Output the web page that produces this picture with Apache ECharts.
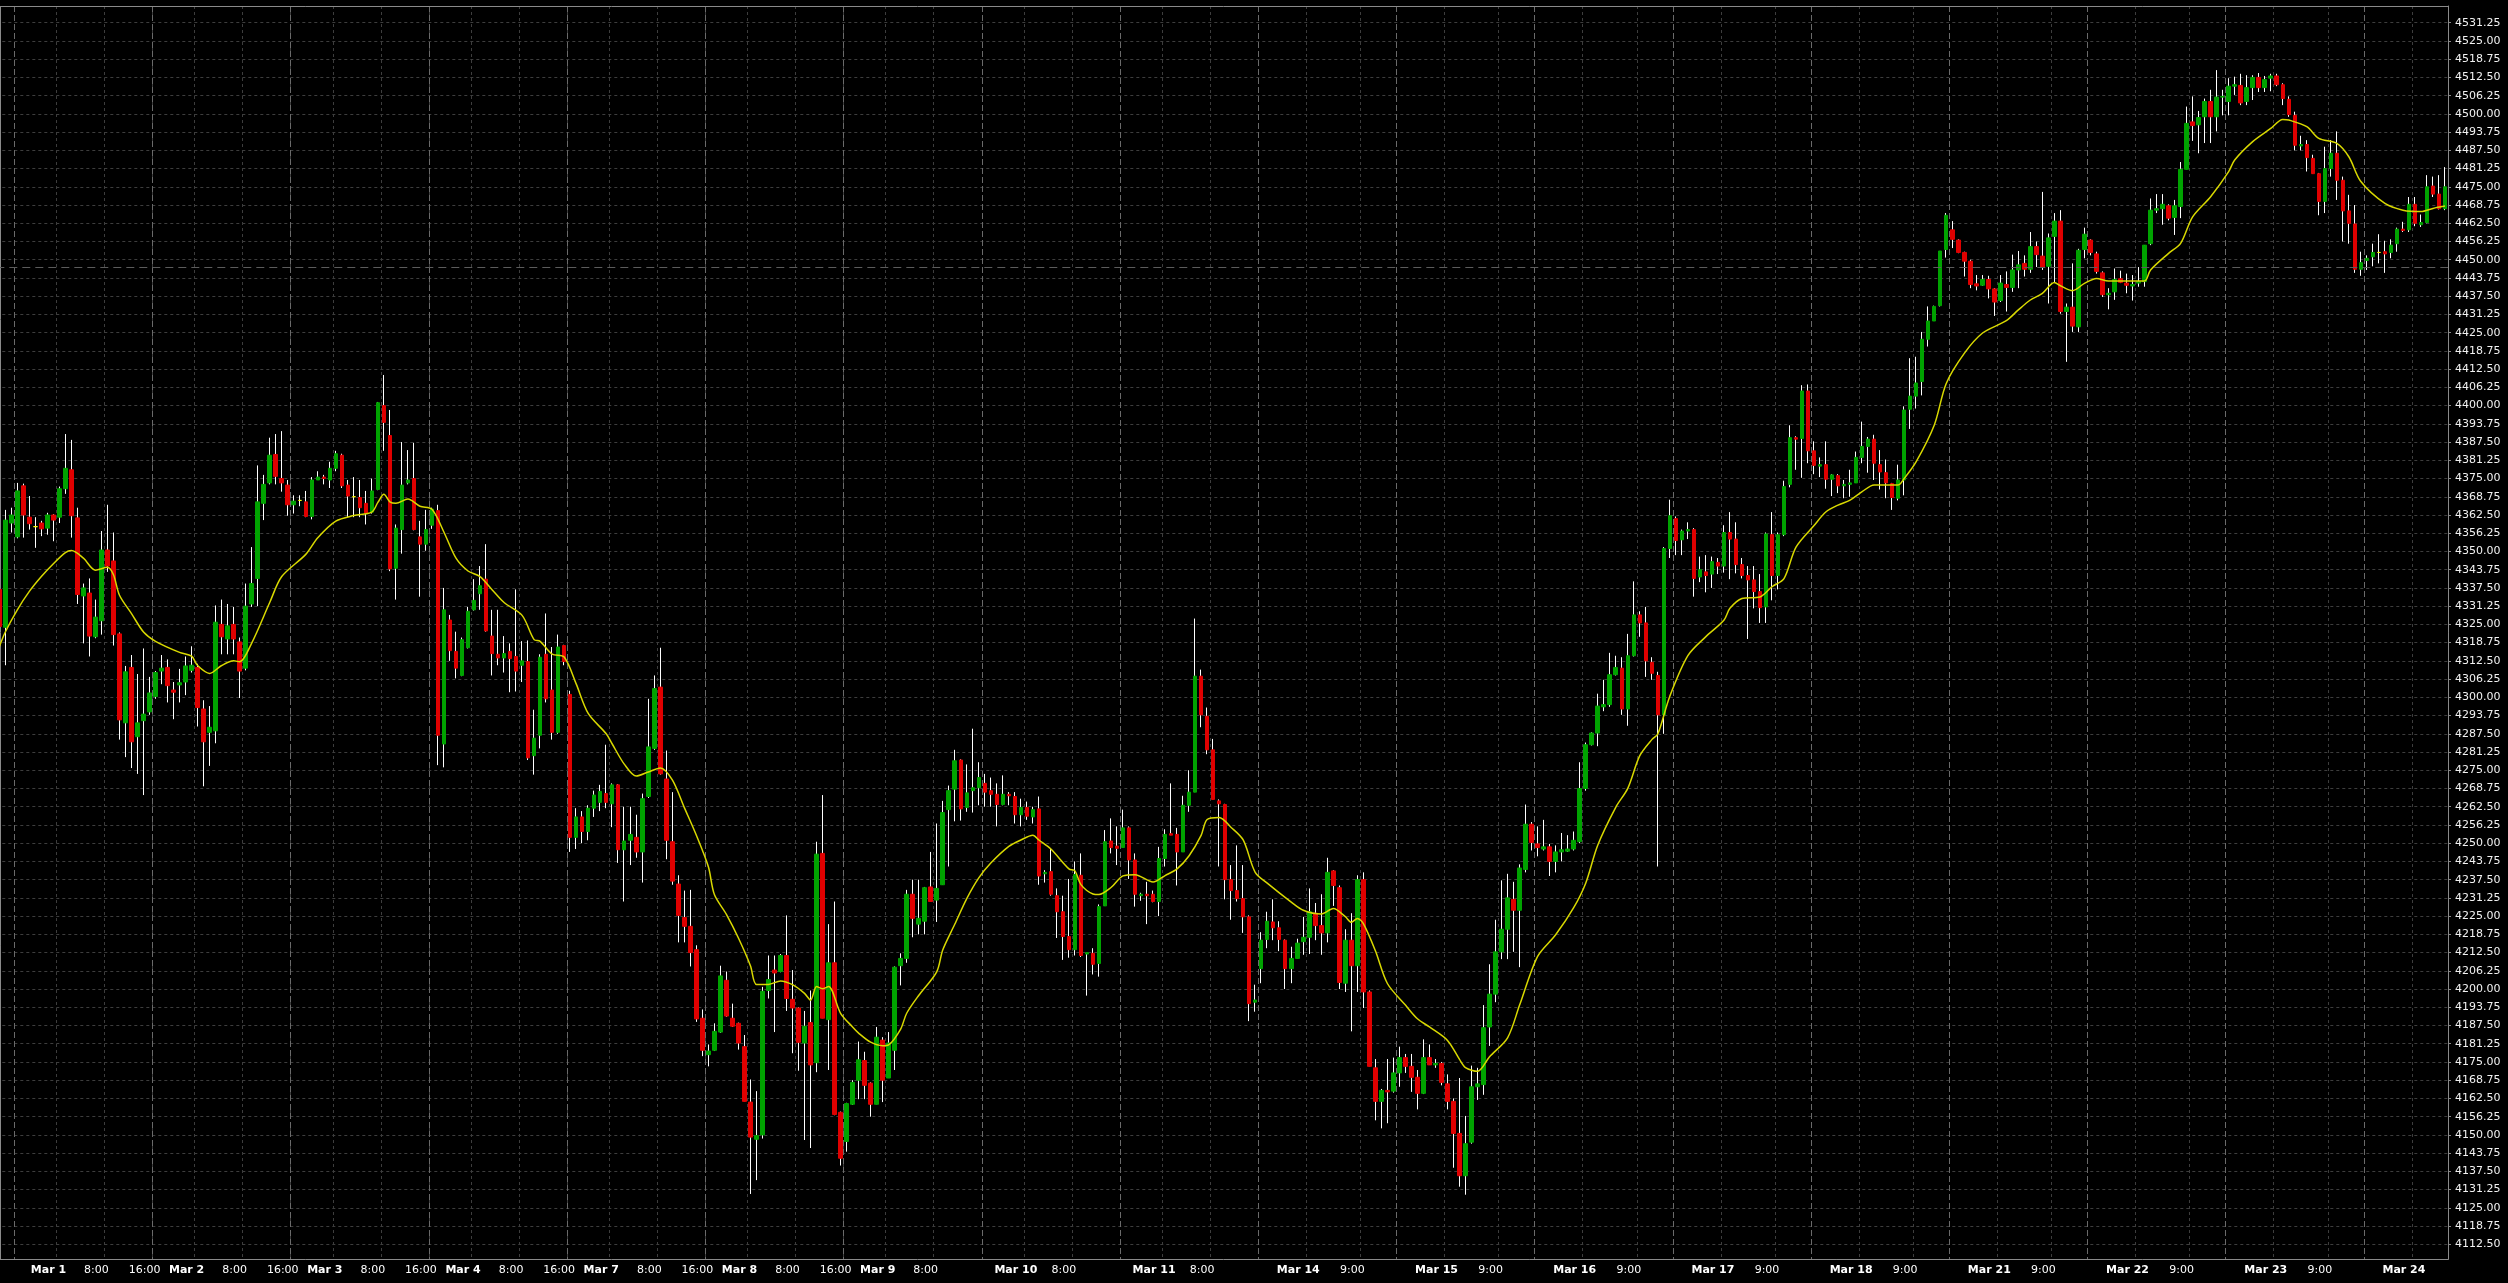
<!DOCTYPE html>
<html><head><meta charset="utf-8">
<script src="https://cdn.jsdelivr.net/npm/echarts@6/dist/echarts.min.js"></script>
<style>html,body{margin:0;padding:0;background:#000;}#c{width:2508px;height:1283px;}</style>
</head><body><div id="c"></div>
<script>
const opens = [4337,4324,4359.75,4355,4372.5,4361.75,4358.5,4359.75,4358,4362.5,
4361.75,4371.5,4378,4361.5,4334.75,4335.75,4320.75,4326.25,4350.5,4346.75,
4321.75,4291.25,4310.25,4286.5,4292,4295,4300.25,4309,4310.25,4302.5,
4304.25,4305.25,4309.25,4310.25,4296,4288,4288.5,4325,4320,4325,
4319,4310,4332,4340.75,4366.5,4373.5,4383.25,4375,4372.75,4366,
4367.5,4367,4362,4374.5,4375.5,4374.5,4378.5,4383,4372.75,4368.75,
4368.5,4366.5,4363.5,4371.25,4400,4389.75,4344.25,4357.5,4373.5,4375,
4355,4352.5,4359,4364,4284,4326.5,4315.75,4307.5,4317,4330,
4335.5,4340.5,4321,4314.75,4313.5,4315.75,4314,4311,4312.25,4280,
4287,4314.75,4302.5,4288,4317.75,4301,4252,4259,4254,4262,
4264,4267,4263.5,4270,4247.75,4251,4252,4247,4266,4282.5,
4303.5,4272,4250.5,4236,4224.5,4221.5,4213.5,4190,4177.5,4179,
4185.25,4203,4190,4188.25,4180.25,4161.25,4148.5,4150,4199.5,4206.5,
4206,4211.5,4196.5,4193.5,4181.5,4188.5,4174.75,4246.5,4189.5,4209,
4157.75,4147.75,4160.5,4168.75,4175.5,4167.75,4160.5,4182.5,4169.5,4179,
4208,4210.5,4232.5,4222.25,4223.25,4235,4230.5,4235.75,4261.5,4268.5,
4278.5,4262.25,4268,4269,4270.5,4268,4266.75,4263.25,4266.75,4266,
4259.75,4262.25,4259,4261.75,4239.5,4240.25,4232,4226.5,4218,4213.5,
4239,4212,4212.25,4208.75,4228.5,4250.75,4249,4248.5,4255.25,4244.25,
4232,4232.5,4232.5,4230,4244.75,4253.25,4253,4247,4263,4267.5,
4307.25,4293.5,4282,4264.5,4263.25,4237.5,4233.75,4231,4224.75,4195.5,
4207,4217,4223,4221,4216.75,4207,4210.5,4216.25,4217.75,4226,
4221.75,4219.25,4240.5,4234.75,4202,4216.75,4208,4237.5,4199,4173,
4161.5,4165.25,4165,4171.25,4176.5,4173.5,4169.75,4164.25,4176.5,4174,
4174.5,4167.5,4161.5,4150.5,4136,4147.5,4166.5,4167.25,4187,4198.25,
4212.75,4220.5,4230.75,4227,4241,4256.5,4249.75,4248,4248.75,4243.75,
4247,4247.25,4248,4250.5,4268.75,4283.75,4287.75,4296.75,4297.5,4307.75,
4310,4296,4314.25,4328.25,4325.5,4312,4307.5,4294,4351,4361.25,
4354,4357,4357.5,4341.25,4343,4342.25,4346.25,4345,4356.5,4354.25,
4345.5,4341.75,4340.25,4336.25,4331,4355.75,4341.75,4355.75,4373,4389,
4388.75,4405,4384.5,4379.25,4379.75,4374.75,4376,4372.5,4373,4373.5,
4382.25,4386,4388.5,4379.75,4377,4373.25,4368.25,4374.5,4398.75,4403.25,
4408.25,4422.75,4429,4434.25,4453.5,4460.25,4456.75,4452.5,4449.5,4441.75,
4441.25,4443.25,4440,4436,4441.5,4440.5,4446.5,4448.75,4446.75,4454.5,
4451.25,4447.75,4458,4463.25,4432.25,4433.75,4427,4453.5,4456.75,4452,
4445.5,4438,4439,4443.5,4442,4441,4442,4442.5,4455.5,4467,
4467.5,4468.5,4464.5,4468.25,4481,4497.25,4496.25,4499,4504.25,4499,
4505.75,4504.25,4509.5,4509.75,4504.25,4509,4512.5,4509,4512.25,4513,
4510,4505,4499.5,4489,4489.5,4484.75,4479.5,4470,4481.25,4486.5,
4477.25,4466.75,4462.25,4446.75,4449.75,4451,4452.5,4452.75,4452.5,4455.5,
4460.5,4460.25,4469,4462,4462.75,4475.25,4472.5,4467.5];

const highs = [4339,4364.25,4365,4373.5,4373.25,4369,4361.75,4360.5,4363.25,4362.75,
4372.25,4390.25,4388.25,4365,4339,4340.75,4333.5,4357,4366,4356.5,
4322.25,4310.75,4314.5,4308,4316.75,4307,4309,4314.5,4313,4305.25,
4309.75,4314,4317.5,4311.5,4299,4297,4331.5,4333.5,4332,4331,
4320.5,4339,4351.5,4379.5,4376.25,4389,4390.25,4391.25,4374.5,4369.25,
4369.25,4370.75,4375.5,4377.5,4376.25,4380.75,4384.5,4383.5,4374.5,4375.5,
4374.5,4370.75,4375,4401.25,4410.5,4398.5,4359.25,4387.5,4384.75,4387.25,
4360.5,4364.25,4365,4366,4337.5,4328.25,4322.5,4320.5,4331,4340.5,
4345,4352.5,4330,4330,4321,4318.5,4337,4319.25,4319.5,4295.75,
4314.75,4328.75,4317.25,4321.5,4318,4302.25,4262,4261,4263,4268,
4270,4283.75,4270.5,4270.25,4262.5,4262.5,4259.75,4267,4299.5,4307.5,
4317,4281.75,4267.5,4239,4233.75,4234,4215,4193,4181,4188.25,
4208,4206,4195,4188.5,4184.25,4169,4165,4200.75,4211.5,4211.5,
4212,4225.25,4206.5,4193.75,4192.5,4199.5,4250.5,4266.5,4222.25,4230,
4158,4161,4168.75,4182,4178.5,4168,4187,4183.5,4185.25,4207.75,
4212.25,4234,4237.5,4237.5,4235,4247,4256.75,4264.5,4269.75,4282,
4278.75,4277,4289.25,4277.75,4273.75,4272.5,4270.5,4273.25,4267.5,4267.5,
4265.25,4264.25,4262.5,4266,4240.75,4248,4234.5,4232,4237.75,4243.75,
4246.5,4212.5,4214,4229,4254.5,4258.5,4255.75,4261.5,4255.75,4246.5,
4233,4236.75,4233.75,4248.75,4254.75,4270.5,4255.25,4266.25,4275,4327,
4309.5,4296.5,4285.75,4265,4263.5,4242.5,4249.25,4242.5,4225.25,4201.5,
4219.5,4226.5,4230.75,4223.25,4217,4214.5,4217.25,4224.75,4234.5,4229.5,
4232.5,4245,4240.75,4235.5,4220.5,4226,4239,4240,4199.5,4176,
4165.75,4176,4176.5,4180.25,4177.75,4177.75,4172.25,4182.75,4181,4176,
4175,4170.75,4162.5,4169.5,4156.5,4173.75,4173,4194.5,4208.5,4223.75,
4237.25,4239.5,4236.75,4242.75,4263.25,4257.25,4255.75,4258,4249.75,4249.25,
4253.5,4252.75,4254,4277.75,4284.5,4288,4301.25,4306,4315.25,4314.25,
4313.75,4321.75,4339.75,4329.5,4331,4313.75,4308.75,4351.5,4367.75,4362,
4357.5,4360,4358,4348.25,4348.75,4348.25,4347.75,4359,4363.5,4360,
4347.75,4345,4345,4342.25,4356.5,4363.5,4356.5,4374.25,4393.25,4389.5,
4407,4407.25,4387.75,4382.25,4387.75,4376.5,4376.5,4374.5,4378,4384.25,
4394.5,4389.25,4390,4384.75,4381.5,4373.5,4379.75,4399.75,4416.25,4416.75,
4425.25,4434,4434.25,4453,4466,4463.25,4457,4452.75,4450,4444.75,
4444.75,4444.5,4440.25,4444.75,4446,4451.75,4453,4451.5,4459.5,4456.25,
4473.25,4459,4466,4467,4435,4448.75,4453.75,4461,4457,4452.75,
4446,4440.25,4447,4446.25,4445.25,4444.75,4447.5,4455,4471,4472.5,
4472.5,4469,4470.5,4483.5,4502.5,4506,4501,4505.25,4508.25,4515,
4508.25,4512.25,4512.75,4513.75,4513.25,4513.25,4514,4513,4513.75,4513.75,
4510.5,4506,4500.75,4492.5,4491,4486,4479.75,4488.75,4491,4494,
4478.5,4472.25,4468.75,4452.75,4451.5,4455.5,4458.75,4456.5,4457,4461,
4463,4471.5,4471.5,4465.5,4479,4478.5,4479,4481.75];

const lows = [4321,4311,4356.5,4354.5,4354.75,4357.5,4351.25,4355.25,4355.75,4353.5,
4359.75,4369.75,4354.75,4332,4318.5,4314,4320.25,4321.5,4343,4317.75,
4285.5,4279.5,4275.75,4273.75,4266.5,4294,4299.5,4304.5,4298.25,4292.5,
4298.25,4300.75,4308.5,4290,4269.5,4276.5,4284.25,4314.75,4314.75,4314.75,
4299.75,4309.25,4331,4331.25,4360.75,4373,4373,4370.5,4362.25,4363,
4365.5,4361.75,4361,4374.5,4373,4371.75,4377.5,4371.75,4361.75,4361.75,
4361.75,4359.25,4363,4371,4384.5,4343.25,4333.5,4349.25,4373,4357.25,
4334.5,4350.25,4357.75,4276.75,4276,4312.5,4306.5,4307.25,4316.75,4329.75,
4330,4322.5,4307.5,4311,4308.5,4301.75,4302,4305.25,4278.5,4273.5,
4282.5,4298.25,4285.5,4287.5,4311,4247,4248,4250,4251,4259,
4261,4262,4255.5,4243.25,4230,4242.5,4245,4236.5,4265.5,4282,
4273.5,4244.5,4235.75,4216,4216,4207.75,4188.75,4177,4173.5,4178.75,
4185,4190.5,4187,4179.25,4161.5,4129.75,4134.5,4148.75,4196.75,4185.25,
4205.75,4192.5,4178,4172,4148.25,4145.5,4171.5,4190,4172.25,4156.75,
4139.5,4144.25,4160.25,4162.25,4162.25,4156.25,4160.5,4161.25,4169.5,4172.25,
4201.25,4209,4217.75,4218.75,4218.75,4230,4223,4235.75,4242,4257.5,
4257.75,4260.75,4260.5,4263,4262.5,4262.5,4255.75,4263,4263,4256.75,
4255.75,4258,4256.75,4235.75,4236.5,4232,4217.5,4210,4210.75,4211.5,
4211,4197.75,4205,4204.25,4228.5,4246.5,4242.5,4248.5,4237.75,4228.25,
4230.25,4222.25,4229.75,4225,4242,4252.75,4235.5,4247,4260.75,4267.5,
4289.75,4280.5,4265,4242,4230.75,4223.75,4230,4219.25,4189,4192.25,
4202,4214,4216.75,4213,4200,4202,4210.5,4211.75,4212,4216.75,
4211.75,4216,4228.5,4200,4199,4185.5,4199,4193.5,4173.5,4155,
4152.25,4154,4164.5,4166.5,4171.25,4164.75,4158.75,4164,4174,4173,
4167,4158.75,4138.75,4132.25,4129.5,4147,4162,4163.75,4180.5,4195.5,
4210.25,4210.25,4212.75,4207.5,4240,4247.5,4245.5,4247.5,4238.75,4240,
4243.75,4247,4247.5,4250,4268,4283.5,4283.25,4295.25,4296.75,4307.5,
4294,4290.25,4314,4320.75,4307,4306,4242,4287.5,4347.75,4348.75,
4348.75,4354.25,4334.5,4339.5,4336,4337.5,4342.25,4342.75,4340.5,4342.5,
4340.75,4320,4330.5,4325.5,4325.5,4333.25,4337,4355.25,4372,4378,
4375.25,4380.25,4376.5,4375.5,4371.5,4369,4370,4368.25,4368.75,4373.5,
4380.25,4377,4374.5,4371.25,4368.25,4364.25,4367.5,4369.25,4392,4399,
4403.5,4420.25,4429,4434,4450.75,4454,4452.25,4444.25,4440.25,4439.5,
4441,4436.75,4430.75,4435.5,4432.25,4439,4440.25,4444.25,4445.5,4447.5,
4446.5,4435,4442,4431.5,4415,4425.25,4425.25,4450.5,4451.5,4445.25,
4437.25,4433,4436.25,4442,4438.5,4436,4440.75,4440.75,4455,4466,
4462,4463.5,4458.5,4464.25,4481,4490.75,4486.5,4490,4490,4494,
4499.5,4499.5,4506.5,4503,4503,4504.75,4507.5,4507.5,4507.75,4509.5,
4503,4499,4487.5,4487.5,4480.25,4479.5,4465.25,4466,4478.5,4470.5,
4456.25,4455.5,4445.5,4444.5,4446.5,4447.75,4448.75,4445.5,4450.5,4452.75,
4459.5,4459.5,4461.5,4461.25,4462.5,4471.5,4467.25,4467];

const closes = [4324.25,4360.75,4362.5,4370.75,4362.5,4359.5,4358.5,4357.75,4362.5,4360.75,
4371.5,4378.5,4362.25,4335.25,4337.5,4321,4327.5,4350.5,4345,4321.5,
4292.25,4308.75,4284.75,4291.25,4294.25,4301.5,4308.5,4310,4304,4301.75,
4305,4310.75,4311,4296.5,4284.75,4289.75,4325.75,4320.75,4324.5,4320,
4309,4331.25,4339,4367,4373,4383,4375.75,4373.5,4366,4367.25,
4367.5,4362,4374.5,4375.5,4375,4378.5,4383.5,4372.5,4369,4368.75,
4365,4363,4370.75,4401,4394.25,4344,4358,4372.75,4374.5,4357.5,
4352.5,4357.5,4364.5,4287,4330,4316,4310,4319.75,4329.5,4333.25,
4338.25,4322.75,4315,4313.5,4315,4313.25,4309,4312.5,4279.25,4286,
4313.75,4299.5,4288,4317.25,4312.25,4252,4259,4254,4262,4266.5,
4267.75,4264,4270,4247.75,4250.75,4253,4247,4265.25,4283,4303,
4273.75,4251,4237,4225.25,4221.5,4212.5,4189.75,4179,4178.75,4185.5,
4204.5,4190.75,4187.25,4181.5,4161.5,4149.25,4149.75,4199.25,4203.25,4205.5,
4211.5,4196.75,4193.5,4181.75,4187.25,4174,4246.25,4190,4209,4157,
4142,4160.75,4168,4175.75,4167,4160.5,4183.5,4168.75,4181.5,4207.5,
4210.5,4232.5,4224.25,4224.25,4234.75,4230,4234.5,4260.5,4268,4278.25,
4261.75,4267.25,4269,4272.5,4267.5,4266.75,4263.25,4266.75,4266.25,4259.75,
4262.25,4259.25,4261.5,4238.75,4240,4232.5,4226.5,4218,4213.5,4239.25,
4211.5,4212.5,4208.5,4228.25,4250.5,4248.5,4248.25,4255.25,4244.25,4232.5,
4232.5,4232,4230,4244.75,4253,4252.75,4247,4263,4267.5,4307.25,
4294,4282,4265,4263.5,4237.5,4233.75,4231,4224.75,4195,4196.25,
4216.75,4223.25,4221,4217,4207,4210.5,4215.75,4217.75,4226.5,4221.75,
4219.25,4240,4235.5,4202.25,4216.75,4208,4237.5,4199,4173.5,4161.5,
4165.25,4164.75,4171.25,4176.5,4173.5,4169.75,4164.25,4176.5,4174,4174.5,
4168,4161.5,4150.5,4136,4147,4166.5,4167.5,4186.75,4198.25,4212.75,
4220.5,4231.25,4227,4241.5,4256.5,4250.25,4248.5,4248.75,4243.75,4247,
4247.75,4248,4251,4268.75,4283.75,4287.75,4297,4297.5,4307.75,4310.25,
4296,4314.25,4328.25,4325.5,4312.5,4308.25,4294,4351,4362.25,4353.75,
4357,4357.5,4340.75,4343.75,4341.75,4346.5,4345,4356.5,4354.25,4345.5,
4341.75,4340.25,4336.25,4330.75,4356,4341.75,4355.75,4372.25,4389,4388.5,
4405,4384.5,4379.5,4379.75,4374.75,4376.25,4372.5,4373,4373.5,4382.25,
4386,4388.5,4380.25,4377.25,4373.5,4368.5,4374.5,4398.5,4403.25,4407.75,
4422.75,4429,4434,4453,4465.25,4457,4452.5,4449.5,4441.5,4441,
4443.25,4440,4435.5,4442,4440.5,4446.5,4448.25,4446.75,4454.5,4451.75,
4447.5,4457.5,4463.25,4432.25,4433.75,4427.25,4453.25,4458.75,4452.5,4446,
4438,4438.5,4443.25,4442.25,4441.25,4441.5,4442.5,4455,4467,4467.5,
4469,4464.25,4468.5,4481,4496.75,4496,4498.75,4504.25,4499,4505.75,
4506,4509.5,4510,4503.75,4509,4512.5,4509,4511.75,4513,4510,
4505.25,4499.75,4489.25,4489.5,4485,4479.5,4470,4481.25,4486.5,4477.25,
4466.75,4462.5,4446.75,4449,4450.5,4452.5,4452.5,4452,4455,4460.5,
4460,4469,4462.5,4462.75,4475,4472.5,4467.5,4475];

// moving average: [candle index, value]
const maPoints = [[0,4317.3],[1,4322.4],[3,4330],[5,4336.3],[7,4341.4],[9,4345.8],[11,4349.6],[12,4350.3],[14,4347.7],[16,4343.6],[18,4344.6],[19,4342],[20,4335],[22,4328.7],[24,4322.4],[26,4319.2],[30,4315.4],[32,4314.1],[33,4310.9],[35,4308.2],[37,4310.9],[39,4312.5],[40,4312.2],[42,4318.6],[45,4332.5],[47,4341.4],[51,4349],[53,4354.7],[56,4360.4],[59,4362.3],[62,4363.5],[63,4366.8],[64,4369.6],[65,4367],[66,4366.5],[68,4368],[70,4365.5],[72,4364.5],[74,4356.6],[76,4347.7],[78,4343.3],[80,4341.4],[82,4336.9],[84,4332.5],[87,4328.1],[89,4319.8],[90,4319.2],[92,4314.8],[94,4313.8],[96,4304.6],[98,4294.5],[101,4287.5],[102,4284],[104,4277.1],[106,4273],[108,4274.4],[110,4275.8],[112,4271.7],[114,4262.2],[116,4252.7],[118,4241.9],[119,4232.4],[121,4225.6],[123,4217.5],[125,4208],[126,4201.6],[128,4201.6],[130,4202.8],[132,4201.5],[134,4198.5],[135,4196.2],[136,4200.9],[137,4200.1],[138,4200.9],[140,4191.7],[142,4187],[143,4184.9],[145,4181.8],[147,4180.6],[148,4180.9],[150,4186.3],[151,4191.7],[153,4197.8],[156,4205.9],[157,4213.4],[159,4222.2],[161,4231],[163,4238.1],[165,4243.2],[168,4248.9],[170,4251.1],[172,4252.7],[173,4251.1],[175,4248],[178,4241.2],[179,4240.5],[180,4235.8],[182,4232.6],[183,4232.4],[185,4234.8],[187,4238.8],[189,4239.2],[192,4236.7],[194,4238.9],[196,4241.2],[198,4245.7],[200,4252.7],[201,4258.1],[203,4258.8],[205,4255.4],[207,4251.1],[209,4240],[211,4236.3],[215,4229.8],[217,4227],[220,4225.7],[222,4227.6],[224,4224.8],[225,4222.9],[226,4224.2],[227,4222.4],[229,4213.1],[231,4201.9],[234,4194.5],[236,4189.8],[238,4187],[241,4182.4],[243,4175.9],[244,4173.1],[246,4171.8],[248,4176.8],[251,4183.3],[253,4194.5],[256,4211.2],[259,4218.6],[262,4227.9],[264,4236.3],[266,4249.3],[269,4262.3],[271,4268.8],[273,4280],[275,4285.5],[276,4287.4],[278,4300.4],[281,4314.3],[284,4320.8],[287,4326.4],[288,4330.5],[290,4333.9],[293,4334.4],[295,4337.9],[297,4340.7],[299,4351.5],[302,4358.9],[304,4363.6],[306,4365.9],[308,4367.6],[310,4370.5],[312,4372.8],[316,4372.8],[317,4375],[319,4380.8],[322,4393.3],[324,4407.6],[327,4417.9],[330,4424.8],[334,4429.1],[336,4432.8],[338,4436.2],[340,4438.5],[342,4442.2],[343,4441.1],[345,4439.4],[347,4441.9],[349,4443.6],[351,4442.7],[354,4442.7],[357,4442.7],[358,4446.5],[361,4452.2],[363,4455.6],[365,4464.7],[368,4471.6],[371,4480.2],[372,4484.2],[375,4490.5],[378,4495],[380,4498.1],[381,4497.9],[384,4495.6],[386,4491.6],[389,4489.9],[391,4485.3],[393,4476.8],[397,4469.3],[400,4467],[403,4466.5],[405,4467.6],[407,4468.4]];

const yTicks = [4112.5,4118.75,4125,4131.25,4137.5,4143.75,4150,4156.25,4162.5,4168.75,4175,4181.25,4187.5,4193.75,4200,4206.25,4212.5,4218.75,4225,4231.25,4237.5,4243.75,4250,4256.25,4262.5,4268.75,4275,4281.25,4287.5,4293.75,4300,4306.25,4312.5,4318.75,4325,4331.25,4337.5,4343.75,4350,4356.25,4362.5,4368.75,4375,4381.25,4387.5,4393.75,4400,4406.25,4412.5,4418.75,4425,4431.25,4437.5,4443.75,4450,4456.25,4462.5,4468.75,4475,4481.25,4487.5,4493.75,4500,4506.25,4512.5,4518.75,4525,4531.25];

const xLabels = [[10,'Mar 1'],[18,'8:00'],[26,'16:00'],[33,'Mar 2'],[41,'8:00'],[49,'16:00'],
[56,'Mar 3'],[64,'8:00'],[72,'16:00'],[79,'Mar 4'],[87,'8:00'],[95,'16:00'],
[102,'Mar 7'],[110,'8:00'],[118,'16:00'],[125,'Mar 8'],[133,'8:00'],[141,'16:00'],
[148,'Mar 9'],[156,'8:00'],[171,'Mar 10'],[179,'8:00'],[194,'Mar 11'],[202,'8:00'],
[218,'Mar 14'],[227,'9:00'],[241,'Mar 15'],[250,'9:00'],[264,'Mar 16'],[273,'9:00'],
[287,'Mar 17'],[296,'9:00'],[310,'Mar 18'],[319,'9:00'],[333,'Mar 21'],[342,'9:00'],
[356,'Mar 22'],[365,'9:00'],[379,'Mar 23'],[388,'9:00'],[402,'Mar 24']];

const sessionStarts = [3,26,49,72,95,118,141,164,187,210,233,256,279,302,325,348,371,394];
const sessionDays = ['Mar 1','Mar 2','Mar 3','Mar 4','Mar 7','Mar 8','Mar 9','Mar 10','Mar 11','Mar 14','Mar 15','Mar 16','Mar 17','Mar 18','Mar 21','Mar 22','Mar 23','Mar 24'];
const priceLine = 4447.5;

// categories (hourly bars)
const N = opens.length;
const categories = ['Feb 28 13:00','Feb 28 14:00','Feb 28 15:00'];
sessionDays.forEach((d, k) => {
  const hrs = k < 9 ? [17,18,19,20,21,22,23,0,1,2,3,4,5,6,7,8,9,10,11,12,13,14,15]
                    : [16,17,18,19,20,21,22,23,0,1,2,3,4,5,6,7,8,9,10,11,12,13,14];
  hrs.forEach(h => { if (categories.length < N) categories.push(d + ' (' + h + ':00)'); });
});

const labelMap = new Map(xLabels);
const sepSet = new Set(sessionStarts);

const wickData = opens.map((o, i) => [o, closes[i], lows[i], highs[i]]);
const bodyData = opens.map((o, i) => [o, closes[i], Math.min(o, closes[i]), Math.max(o, closes[i])]);

const chart = echarts.init(document.getElementById('c'), null, {renderer: 'canvas'});
chart.setOption({
  backgroundColor: '#000000',
  animation: false,
  grid: {left: -3.7, right: 60, top: 6, bottom: 23.7, containLabel: false, outerBoundsMode: 'none'},
  xAxis: [{
    type: 'category', data: categories, boundaryGap: true, position: 'bottom',
    axisLine: {show: true, onZero: false, lineStyle: {color: '#8a8a8a', width: 1}},
    axisTick: {show: false},
    axisLabel: {
      show: true, interval: (i) => labelMap.has(i), margin: 5, padding: [0, 22, 0, 0],
      formatter: (v, i) => { const t = labelMap.get(i) || ''; return t.startsWith('Mar') ? '{d|' + t + '}' : '{t|' + t + '}'; },
      rich: {
        d: {fontFamily: 'DejaVu Sans', fontSize: 11, fontWeight: 'bold', color: '#ffffff'},
        t: {fontFamily: 'DejaVu Sans', fontSize: 11, color: '#ffffff'}
      }
    },
    splitLine: {show: true, interval: (i) => labelMap.has(i), lineStyle: {color: '#3d3d3d', width: 1, type: [3, 3]}}
  }, {
    type: 'category', data: categories, boundaryGap: true, position: 'top',
    axisLine: {show: true, onZero: false, lineStyle: {color: '#8a8a8a', width: 1}},
    axisTick: {show: false}, axisLabel: {show: false},
    splitLine: {show: true, interval: (i) => sepSet.has(i), lineStyle: {color: '#6a6a6a', width: 1, type: [6, 3]}}
  }],
  yAxis: {
    type: 'value', position: 'right', min: 4107.36, max: 4536.98, scale: true,
    axisLine: {show: true, lineStyle: {color: '#8a8a8a', width: 1}},
    axisTick: {show: true, customValues: yTicks, length: 3, lineStyle: {color: '#8a8a8a'}},
    axisLabel: {customValues: yTicks, formatter: (v) => Number(v).toFixed(2), color: '#f2f2f2',
      fontFamily: 'DejaVu Sans', fontSize: 11, margin: 7},
    splitLine: {show: true, lineStyle: {color: '#3d3d3d', width: 1, type: [3, 3]}}
  },
  graphic: [{type: 'line', silent: true, shape: {x1: 0.5, y1: 6, x2: 0.5, y2: 1259.3},
    style: {stroke: '#8a8a8a', lineWidth: 1}}],
  series: [{
    name: 'wick', type: 'candlestick', data: wickData, barWidth: 1, z: 2,
    itemStyle: {color: '#ffffff', color0: '#ffffff', borderColor: '#ffffff', borderColor0: '#ffffff', borderColorDoji: '#ffffff', borderWidth: 1}
  }, {
    name: 'body', type: 'candlestick', data: bodyData, barWidth: 4, z: 3,
    itemStyle: {color: '#00a300', color0: '#e00000', borderColor: '#00a300', borderColor0: '#e00000', borderColorDoji: '#ffff00', borderWidth: 1},
    markLine: {silent: true, symbol: 'none', label: {show: false},
      lineStyle: {color: '#5c5c5c', width: 1, type: [8, 5]}, data: [{yAxis: priceLine}]}
  }, {
    name: 'MA', type: 'line', data: maPoints, showSymbol: false, symbol: 'none', smooth: 0.3, z: 5,
    lineStyle: {color: '#d8d800', width: 1.5}
  }]
});
</script>
</body></html>
